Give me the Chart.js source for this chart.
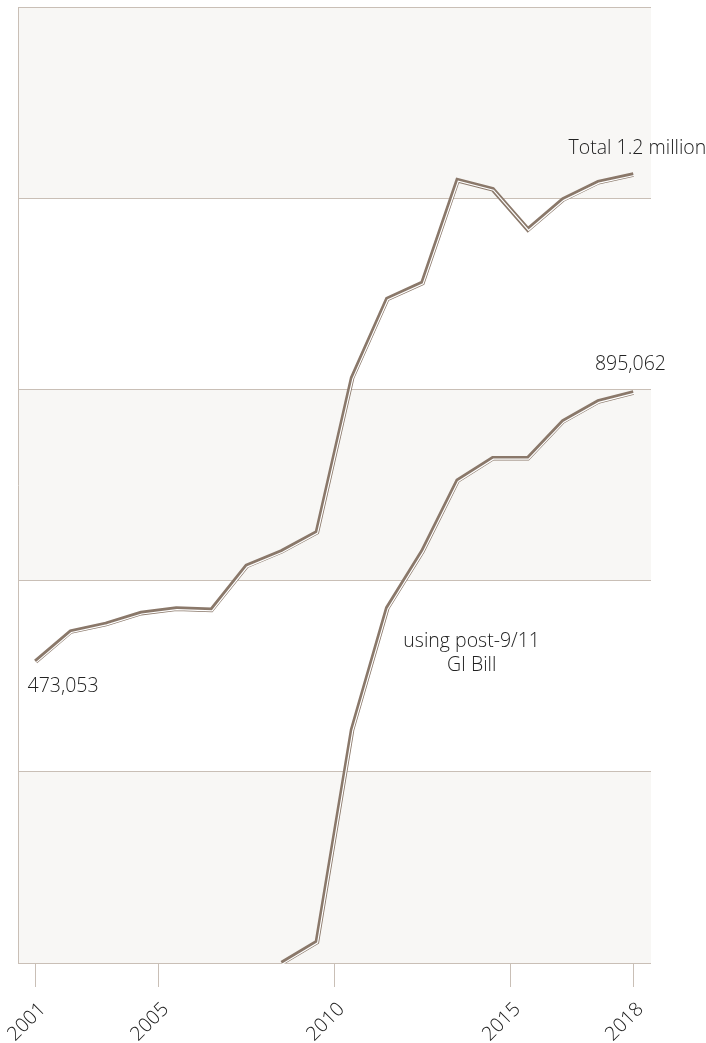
<!DOCTYPE html>
<html>
<head>
<meta charset="utf-8">
<script src="https://cdn.jsdelivr.net/npm/chart.js@4.4.0/dist/chart.umd.min.js"></script>
<style>
  body { margin: 0; background: #fff; }
  #wrap { width: 706px; height: 1043px; position: relative; }
</style>
</head>
<body>
<div id="wrap"><canvas id="chart"></canvas></div>
<script>
const years = [2001, 2002, 2003, 2004, 2005, 2006, 2007, 2008, 2009, 2010, 2011, 2012, 2013, 2014, 2015, 2016, 2017, 2018];
const total = [473053, 520000, 532000, 549000, 556000, 554000, 623000, 646000, 676000, 918000, 1042000, 1067000, 1228000, 1214000, 1151000, 1198000, 1225000, 1237000];
const giBill = [null, null, null, null, null, null, null, 0, 33000, 366000, 557000, 646000, 757000, 792000, 792000, 850000, 881000, 895062];
const tickYears = [2001, 2005, 2010, 2015, 2018];

const brown = '#8a786a';
const gridColor = '#c9bfb6';
const band = '#f8f7f5';
const textColor = '#222';
const font = '"Open Sans", "Noto Sans", sans-serif';

// points sit at mid-year
const toPoints = arr => years.map((yr, i) => ({ x: yr + 0.5, y: arr[i] }));

const bands = {
  id: 'bands',
  beforeDraw(chart) {
    const { ctx, chartArea, scales: { y } } = chart;
    ctx.save();
    ctx.fillStyle = band;
    for (let v = 0; v < y.max; v += 600000) {
      const top = y.getPixelForValue(v + 300000);
      const bot = y.getPixelForValue(v);
      ctx.fillRect(chartArea.left, top, chartArea.right - chartArea.left, bot - top);
    }
    ctx.restore();
  }
};

// thin white stripe slightly offset inside the brown line
const stripe = {
  id: 'stripe',
  beforeDatasetDraw(chart, args) {
    if (chart.data.datasets[args.index].stripe) {
      chart.ctx.save();
      chart.ctx.translate(0.7, 0.9);
    }
  },
  afterDatasetDraw(chart, args) {
    if (chart.data.datasets[args.index].stripe) chart.ctx.restore();
  }
};

const labels = {
  id: 'labels',
  afterDraw(chart) {
    const { ctx, scales: { x, y } } = chart;
    const last = years.length - 1;
    ctx.save();
    ctx.fillStyle = textColor;
    ctx.font = '300 19.5px ' + font;
    ctx.textBaseline = 'middle';
    ctx.textAlign = 'center';
    ctx.fillText('Total 1.2 million', x.getPixelForValue(years[last] + 0.5) + 4, y.getPixelForValue(total[last]) - 26);
    ctx.fillText(giBill[last].toLocaleString('en-US'), x.getPixelForValue(years[last] + 0.5) - 3, y.getPixelForValue(giBill[last]) - 28);
    ctx.fillText('using post-9/11', x.getPixelForValue(2013.9), y.getPixelForValue(505000));
    ctx.fillText('GI Bill', x.getPixelForValue(2013.9), y.getPixelForValue(505000) + 24);
    ctx.textAlign = 'left';
    ctx.fillText(total[0].toLocaleString('en-US'), x.getPixelForValue(years[0] + 0.5) - 8, y.getPixelForValue(total[0]) + 25);
    ctx.restore();
  }
};

function lineSet(data, isStripe) {
  return {
    data: toPoints(data),
    borderColor: isStripe ? '#ffffff' : brown,
    borderWidth: isStripe ? 1.2 : 4.6,
    pointRadius: 0,
    tension: 0,
    spanGaps: false,
    stripe: isStripe,
    order: isStripe ? 0 : 1
  };
}

new Chart(document.getElementById('chart'), {
  type: 'line',
  data: {
    datasets: [
      lineSet(total, true),
      lineSet(giBill, true),
      lineSet(total, false),
      lineSet(giBill, false)
    ]
  },
  options: {
    responsive: true,
    maintainAspectRatio: false,
    animation: false,
    layout: { padding: { left: 18, right: 55, top: 7, bottom: 0 } },
    plugins: { legend: { display: false }, tooltip: { enabled: false } },
    scales: {
      x: {
        type: 'linear',
        min: years[0],
        max: years[years.length - 1] + 1,
        afterBuildTicks(scale) {
          const n = tickYears.length - 1;
          scale.ticks = tickYears.map((yr, i) => ({ value: (i === 0 || i === n) ? yr + 0.5 : yr }));
        },
        afterFit(scale) {
          scale.height = 80;
          scale.paddingLeft = 0;
          scale.paddingRight = 0;
        },
        ticks: {
          autoSkip: false,
          minRotation: 45,
          maxRotation: 45,
          padding: 11,
          labelOffset: 7,
          color: textColor,
          font: { family: font, size: 19.5, weight: 300 },
          callback: v => String(Math.floor(v))
        },
        grid: { drawOnChartArea: false, drawTicks: true, tickLength: 24, color: gridColor, lineWidth: 1 },
        border: { display: false }
      },
      y: {
        min: 0,
        max: 1500000,
        afterFit(scale) { scale.width = 0; },
        ticks: { display: false, stepSize: 300000 },
        grid: { drawTicks: false, color: gridColor, lineWidth: 1 },
        border: { display: true, color: gridColor, width: 1 }
      }
    }
  },
  plugins: [bands, stripe, labels]
});
</script>
</body>
</html>
